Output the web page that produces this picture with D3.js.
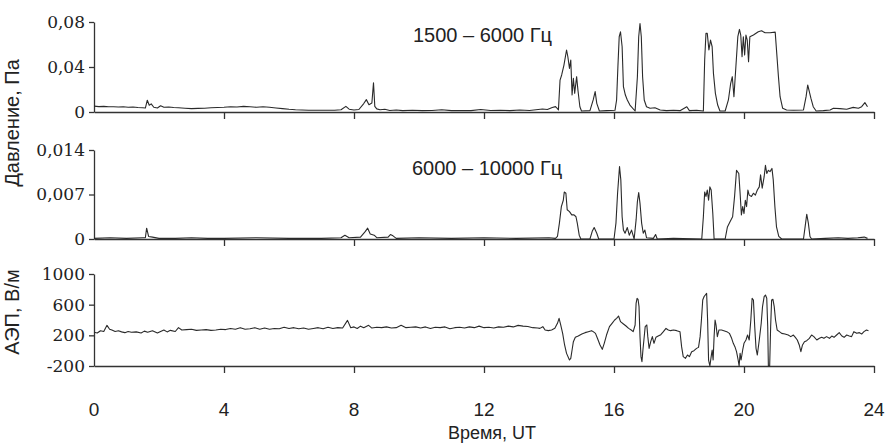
<!DOCTYPE html>
<html>
<head>
<meta charset="utf-8">
<script src="https://cdn.jsdelivr.net/npm/d3@7"></script>
<style>
  body { margin: 0; background: #fff; }
  .tick text { font-family: "DejaVu Serif", serif; font-size: 17px; fill: #222; }
  .lbl { font-family: "Liberation Sans", Arial, sans-serif; fill: #222; }
</style>
</head>
<body>
<div id="chart"></div>
<script>
// time in hours UT
var hours = [0, 4, 8, 12, 16, 20, 24];

var pressLow = [
  [0,0.0052],[0.15,0.0048],[0.3,0.005],[0.45,0.0046],[0.6,0.0047],[0.75,0.0044],[0.9,0.0046],[1.05,0.0042],
  [1.2,0.0044],[1.35,0.004],[1.5,0.0038],[1.58,0.0035],[1.64,0.0105],[1.7,0.006],[1.76,0.0072],[1.84,0.0042],
  [1.95,0.0036],[2.05,0.0055],[2.15,0.0042],[2.3,0.0044],[2.45,0.004],[2.6,0.0038],[2.8,0.0034],[3.0,0.003],
  [3.2,0.0032],[3.4,0.0034],[3.6,0.0038],[3.8,0.004],[4.0,0.0042],[4.2,0.0046],[4.4,0.0044],[4.6,0.005],
  [4.8,0.0046],[5.0,0.0042],[5.2,0.0046],[5.4,0.0042],[5.6,0.0036],[5.8,0.003],[6.0,0.0024],[6.2,0.002],
  [6.4,0.0018],[6.6,0.0016],[6.8,0.0015],[7.0,0.0016],[7.2,0.0015],[7.4,0.0016],[7.6,0.002],[7.75,0.005],
  [7.85,0.0025],[8.0,0.0018],[8.15,0.0022],[8.3,0.0075],[8.38,0.011],[8.46,0.0065],[8.55,0.008],[8.6,0.026],
  [8.64,0.005],[8.7,0.0028],[8.8,0.002],[8.95,0.0025],[9.1,0.0014],[9.3,0.0018],[9.5,0.0012],[9.8,0.0015],
  [10.1,0.0012],[10.4,0.0014],[10.7,0.002],[11.0,0.0012],[11.3,0.0014],[11.6,0.0012],[11.9,0.0022],[12.2,0.0013],
  [12.5,0.0015],[12.8,0.0012],[13.1,0.0018],[13.4,0.0014],[13.6,0.002],[13.8,0.0026],[13.95,0.0022],[14.1,0.004],
  [14.2,0.0048],[14.26,0.003],[14.29,0.0018],[14.34,0.0284],[14.39,0.0329],[14.46,0.0417],[14.54,0.0551],
  [14.58,0.0491],[14.63,0.0388],[14.67,0.0462],[14.71,0.0151],[14.75,0.0299],[14.79,0.0166],[14.85,0.0314],
  [14.89,0.0195],[14.95,0.0047],[15.0,0.0009],[15.26,0.0012],[15.36,0.0107],[15.42,0.0181],[15.47,0.0077],
  [15.55,0.0009],[15.77,0.0012],[16.03,0.0015],[16.08,0.0107],[16.12,0.0403],[16.16,0.0669],[16.2,0.0713],
  [16.25,0.058],[16.29,0.0225],[16.35,0.0151],[16.41,0.0107],[16.49,0.0062],[16.65,0.0009],[16.72,0.0314],
  [16.76,0.0669],[16.8,0.0787],[16.84,0.0669],[16.88,0.0314],[16.93,0.0107],[17.0,0.0047],[17.11,0.0033],
  [17.26,0.0038],[17.42,0.0018],[17.62,0.0012],[17.83,0.0015],[18.03,0.0012],[18.24,0.0047],[18.32,0.0012],
  [18.54,0.0015],[18.75,0.0009],[18.79,0.0462],[18.83,0.0699],[18.87,0.0699],[18.92,0.0551],[18.97,0.0639],
  [19.02,0.058],[19.06,0.0343],[19.12,0.0166],[19.19,0.0062],[19.26,0.0009],[19.42,0.0009],[19.52,0.0107],
  [19.59,0.0255],[19.64,0.0314],[19.69,0.0136],[19.75,0.0403],[19.81,0.0669],[19.86,0.0734],[19.9,0.0684],
  [19.94,0.0491],[19.98,0.0669],[20.02,0.0506],[20.06,0.0684],[20.1,0.0639],[20.14,0.0447],[20.18,0.0669],
  [20.29,0.0684],[20.44,0.0713],[20.54,0.0722],[20.65,0.0704],[20.8,0.0704],[20.96,0.071],[21.0,0.0551],
  [21.06,0.0314],[21.11,0.0136],[21.19,0.0033],[21.31,0.0018],[21.52,0.0015],[21.83,0.0018],[21.91,0.0136],
  [21.96,0.024],[22.01,0.0181],[22.06,0.0121],[22.13,0.0047],[22.22,0.0009],[22.44,0.0012],[22.65,0.0018],
  [22.75,0.0033],[22.95,0.003],[23.16,0.0024],[23.36,0.0041],[23.52,0.0033],[23.62,0.0047],[23.72,0.0083],
  [23.8,0.0047]
];

var pressHigh = [
  [0,0.0001],[0.5,0.0002],[1.0,0.0001],[1.5,0.0002],[1.58,0.0002],[1.62,0.0017],[1.68,0.0004],[1.8,0.0003],
  [2.0,0.0001],[2.5,0.0001],[3,0.0002],[3.5,0.0001],[4,0.0001],[5,0.0002],[6,0.0001],[7,0.0001],[7.6,0.0002],
  [7.72,0.0006],[7.85,0.0002],[8.2,0.0003],[8.35,0.0012],[8.42,0.0017],[8.5,0.0008],[8.62,0.0006],[8.7,0.0002],
  [9.05,0.0003],[9.12,0.0007],[9.2,0.0005],[9.3,0.0001],[10,0.0002],[11,0.0001],[12,0.0002],[13,0.0001],
  [14.0,0.0002],[14.2,0.0001],[14.26,0.0004],[14.32,0.0025],[14.38,0.0051],[14.44,0.0061],[14.47,0.0074],
  [14.52,0.0072],[14.56,0.0046],[14.63,0.0043],[14.7,0.0038],[14.77,0.0038],[14.83,0.0035],[14.87,0.0025],
  [14.93,0.0006],[14.98,0],[15.26,0],[15.33,0.0012],[15.39,0.0018],[15.47,0.0009],[15.53,0],[16.0,0],
  [16.06,0.0025],[16.11,0.0072],[16.17,0.0114],[16.21,0.0093],[16.25,0.0035],[16.29,0.0014],[16.34,0.0009],
  [16.41,0.0018],[16.47,0.0006],[16.54,0.0014],[16.62,0],[16.68,0.003],[16.72,0.0059],[16.76,0.0073],
  [16.8,0.0056],[16.85,0.0025],[16.9,0.0009],[16.95,0.0014],[17.0,0.0002],[17.21,0.0001],[17.28,0.0007],
  [17.33,0],[17.83,0.0001],[18.7,0],[18.75,0.0035],[18.79,0.0074],[18.83,0.0067],[18.87,0.0077],[18.91,0.0061],
  [18.95,0.0082],[18.99,0.0077],[19.04,0.004],[19.08,0],[19.42,0],[19.49,0.0019],[19.57,0.0027],[19.65,0.0035],
  [19.71,0.0067],[19.77,0.0108],[19.84,0.0103],[19.88,0.0072],[19.92,0.0038],[19.96,0.0051],[20.0,0.004],
  [20.04,0.0061],[20.08,0.0051],[20.12,0.0077],[20.16,0.0069],[20.23,0.0067],[20.29,0.0072],[20.35,0.0069],
  [20.41,0.0077],[20.47,0.0082],[20.51,0.0101],[20.56,0.008],[20.62,0.0098],[20.66,0.0116],[20.7,0.0103],
  [20.75,0.0108],[20.8,0.0106],[20.86,0.0111],[20.9,0.0093],[20.95,0.0051],[21.0,0.0019],[21.07,0.0004],
  [21.16,0],[21.83,0],[21.88,0.0019],[21.93,0.0039],[21.98,0.0025],[22.03,0.0004],[22.08,0],[22.5,0.0001],
  [22.9,0.0002],[23.2,0.0001],[23.5,0.0002],[23.7,0.0003],[23.8,0.0001]
];

var field = [
  [0,240],[0.1,230],[0.2,260],[0.3,250],[0.4,330],[0.48,280],[0.55,270],[0.65,250],[0.75,260],[0.85,245],
  [0.95,235],[1.05,250],[1.15,240],[1.3,245],[1.45,230],[1.55,255],[1.65,240],[1.8,260],[1.95,230],[2.05,250],
  [2.15,270],[2.25,245],[2.35,265],[2.5,250],[2.6,300],[2.7,270],[2.85,275],[3.0,280],[3.15,265],[3.3,270],
  [3.45,275],[3.6,265],[3.75,270],[3.9,280],[4.05,275],[4.2,290],[4.35,280],[4.5,300],[4.65,280],[4.8,285],
  [4.95,300],[5.1,280],[5.25,295],[5.4,280],[5.55,290],[5.7,285],[5.85,305],[6.0,290],[6.15,300],[6.3,285],
  [6.45,295],[6.6,280],[6.75,290],[6.9,300],[7.05,285],[7.2,305],[7.35,290],[7.5,300],[7.65,295],[7.8,395],
  [7.9,300],[8.0,310],[8.1,290],[8.2,320],[8.3,300],[8.45,330],[8.55,295],[8.7,305],[8.85,300],[9.0,310],
  [9.15,295],[9.3,300],[9.45,330],[9.6,300],[9.75,305],[9.9,310],[10.05,295],[10.2,310],[10.35,290],[10.5,305],
  [10.65,300],[10.8,310],[10.95,285],[11.1,300],[11.25,305],[11.4,295],[11.55,310],[11.7,300],[11.85,320],
  [12.0,300],[12.15,305],[12.3,295],[12.45,310],[12.6,305],[12.75,320],[12.9,310],[13.05,330],[13.2,320],
  [13.35,315],[13.5,300],[13.65,295],[13.72,291],[13.81,313],[13.88,270],[13.98,261],[14.08,270],[14.18,291],
  [14.26,357],[14.31,422],[14.36,335],[14.42,226],[14.48,74],[14.54,-35],[14.63,-122],[14.67,-100],[14.71,9],
  [14.75,117],[14.81,174],[14.9,191],[15.01,217],[15.11,235],[15.21,248],[15.31,261],[15.36,248],[15.43,226],
  [15.49,161],[15.57,74],[15.64,17],[15.7,96],[15.77,204],[15.86,313],[15.94,357],[16.02,400],[16.08,422],
  [16.14,452],[16.2,378],[16.29,348],[16.37,322],[16.45,291],[16.53,270],[16.59,248],[16.65,335],[16.68,617],
  [16.71,683],[16.74,670],[16.77,574],[16.8,183],[16.83,-78],[16.86,-143],[16.89,9],[16.92,139],[16.96,313],
  [17.01,335],[17.04,183],[17.08,30],[17.13,117],[17.18,183],[17.23,96],[17.29,174],[17.36,191],[17.44,209],
  [17.52,248],[17.6,291],[17.67,270],[17.74,261],[17.83,270],[17.93,261],[18.03,248],[18.08,52],[18.13,-78],
  [18.2,-100],[18.26,-57],[18.32,-78],[18.39,-13],[18.46,0],[18.54,30],[18.6,43],[18.65,183],[18.69,400],
  [18.73,661],[18.77,704],[18.81,726],[18.85,748],[18.88,400],[18.91,-122],[18.95,-200],[18.99,-78],[19.02,9],
  [19.05,-122],[19.08,183],[19.11,400],[19.14,335],[19.18,183],[19.23,270],[19.31,270],[19.38,261],[19.47,248],
  [19.55,226],[19.62,161],[19.67,96],[19.72,52],[19.77,-13],[19.82,-122],[19.85,-200],[19.88,-35],[19.91,-122],
  [19.96,9],[20.0,96],[20.06,139],[20.11,204],[20.16,139],[20.21,400],[20.25,683],[20.29,661],[20.33,313],
  [20.37,30],[20.41,-57],[20.47,139],[20.53,357],[20.57,574],[20.62,704],[20.66,726],[20.7,683],[20.73,313],
  [20.75,-200],[20.79,-200],[20.82,313],[20.85,661],[20.89,670],[20.93,574],[20.97,400],[21.02,270],[21.09,248],
  [21.16,226],[21.26,217],[21.36,204],[21.44,183],[21.52,204],[21.58,174],[21.64,139],[21.7,74],[21.75,-13],
  [21.8,74],[21.86,117],[21.93,130],[22.01,161],[22.08,204],[22.15,183],[22.24,139],[22.32,161],[22.39,174],
  [22.46,161],[22.54,183],[22.63,161],[22.7,191],[22.77,174],[22.85,204],[22.93,235],[23.01,191],[23.08,174],
  [23.16,204],[23.24,191],[23.31,183],[23.38,248],[23.47,226],[23.55,235],[23.62,217],[23.69,248],[23.77,270],
  [23.83,261]
];

var topTicks = [0, 0.04, 0.08], topTickLabels = ['0', '0,04', '0,08'];
var midTicks = [0, 0.007, 0.014], midTickLabels = ['0', '0,007', '0,014'];
var botTicks = [-200, 200, 600, 1000], botTickLabels = ['-200', '200', '600', '1000'];

var w = 889, h = 445;

var svg = d3.select('#chart').append('svg').attr('width', w).attr('height', h);

var x = d3.scaleLinear().domain([0, 24]).range([94, 874]);

var panels = [
  { data: pressLow, y: d3.scaleLinear().domain([0, 0.08]).range([112, 22]), ticks: topTicks, labels: topTickLabels },
  { data: pressHigh, y: d3.scaleLinear().domain([0, 0.014]).range([239, 150]), ticks: midTicks, labels: midTickLabels },
  { data: field, y: d3.scaleLinear().domain([-200, 1000]).range([366, 274]), ticks: botTicks, labels: botTickLabels }
];

panels.forEach(function(p) {
  var yAxis = d3.axisLeft(p.y).tickValues(p.ticks).tickSize(5).tickSizeOuter(0).tickPadding(4)
    .tickFormat(function(d, i) { return p.labels[i]; });
  var gy = svg.append('g').attr('transform', 'translate(' + x(0) + ',0)').call(yAxis);
  gy.selectAll('line, path').attr('stroke', '#333').attr('stroke-width', 1.3);

  // bottom line with small ticks every 4 hours
  var xAxis = d3.axisBottom(x).tickValues(hours.slice(1)).tickSize(7).tickSizeOuter(0).tickFormat('');
  var gx = svg.append('g').attr('transform', 'translate(0,' + p.y.range()[0] + ')').call(xAxis);
  gx.selectAll('line, path').attr('stroke', '#333').attr('stroke-width', 1.3);

  var line = d3.line()
    .x(function(d) { return x(d[0]); })
    .y(function(d) { return p.y(d[1]); });

  svg.append('path')
    .datum(p.data)
    .attr('d', line)
    .attr('fill', 'none')
    .attr('stroke', '#2a2a2a')
    .attr('stroke-width', 1.1)
    .attr('stroke-linejoin', 'round');
});

// hour labels under the bottom panel
svg.selectAll('.hour')
  .data(hours)
  .enter()
  .append('text')
  .attr('class', 'lbl')
  .attr('x', function(d) { return x(d); })
  .attr('y', 416)
  .attr('text-anchor', 'middle')
  .style('font-size', '19px')
  .text(function(d) { return d; });

svg.append('text').attr('class', 'lbl').attr('x', 492).attr('y', 439)
  .attr('text-anchor', 'middle').style('font-size', '18px').text('Время, UT');

svg.append('text').attr('class', 'lbl').attr('x', 413).attr('y', 42)
  .style('font-size', '20px').text('1500 – 6000 Гц');
svg.append('text').attr('class', 'lbl').attr('x', 412).attr('y', 175)
  .style('font-size', '20px').text('6000 – 10000 Гц');

svg.append('text').attr('class', 'lbl')
  .attr('transform', 'translate(19,123) rotate(-90)')
  .attr('text-anchor', 'middle').style('font-size', '20px').text('Давление, Па');
svg.append('text').attr('class', 'lbl')
  .attr('transform', 'translate(19,312) rotate(-90)')
  .attr('text-anchor', 'middle').style('font-size', '20px').text('АЭП, В/м');
</script>
</body>
</html>
